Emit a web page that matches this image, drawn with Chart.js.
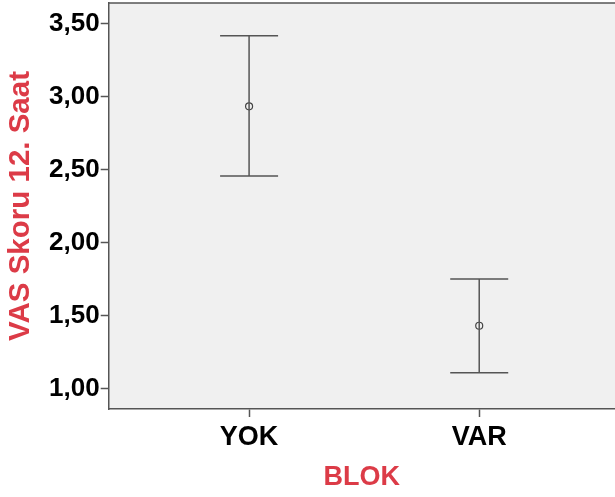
<!DOCTYPE html>
<html>
<head>
<meta charset="utf-8">
<script src="https://cdn.jsdelivr.net/npm/chart.js@4"></script>
<style>
  html, body { margin: 0; padding: 0; background: #fff; overflow: hidden; }
  #wrap { width: 615px; height: 497px; }
</style>
</head>
<body>
<div id="wrap"><canvas id="grafico" width="615" height="497"></canvas></div>
<script>
// datos (media e intervalo)
const grupos = ['YOK', 'VAR'];
const medias = [2.935, 1.433];
const limiteInf = [2.458, 1.111];
const limiteSup = [3.418, 1.753];
const ticksY = [1.0, 1.5, 2.0, 2.5, 3.0, 3.5];

const gris = '#555555';
const rojo = '#dc3b47';
const fuente = "'Liberation Sans', Arial, sans-serif";

// fondo gris y linea superior del area
const fondoArea = {
  id: 'fondoArea',
  beforeDraw(chart) {
    const a = chart.chartArea;
    const ctx = chart.ctx;
    ctx.save();
    ctx.fillStyle = '#f0f0f0';
    ctx.fillRect(a.left, a.top, a.right - a.left, a.bottom - a.top);
    ctx.restore();
  },
  afterDraw(chart) {
    const a = chart.chartArea;
    const ctx = chart.ctx;
    ctx.save();
    ctx.strokeStyle = gris;
    ctx.lineWidth = 1.5;
    ctx.beginPath();
    ctx.moveTo(a.left, a.top);
    ctx.lineTo(a.right, a.top);
    ctx.stroke();
    ctx.restore();
  }
};

const datasets = [];
grupos.forEach((g, i) => {
  datasets.push({
    data: [{ x: i + 1, y: limiteInf[i] }, { x: i + 1, y: limiteSup[i] }],
    showLine: true,
    borderColor: gris,
    borderWidth: 1.5,
    pointRadius: 0
  });
});
datasets.push({
  data: grupos.flatMap((g, i) => [{ x: i + 1, y: limiteInf[i] }, { x: i + 1, y: limiteSup[i] }]),
  pointStyle: 'line',
  pointRadius: 29,
  borderColor: gris,
  borderWidth: 1.5
});
datasets.push({
  data: grupos.map((g, i) => ({ x: i + 1, y: medias[i] })),
  pointStyle: 'circle',
  pointRadius: 3.5,
  backgroundColor: '#f0f0f0',
  borderColor: '#444',
  borderWidth: 1.2
});

new Chart(document.getElementById('grafico'), {
  type: 'scatter',
  data: { datasets },
  plugins: [fondoArea],
  options: {
    responsive: false,
    animation: false,
    layout: { autoPadding: false, padding: { top: 3, right: 0, left: 0, bottom: 0 } },
    plugins: { legend: { display: false }, tooltip: { enabled: false } },
    scales: {
      x: {
        type: 'linear',
        min: 0.39,
        max: 2.59,
        afterBuildTicks: s => { s.ticks = grupos.map((g, i) => ({ value: i + 1 })); },
        afterFit: s => { s.height = 88; s.paddingLeft = 0; s.paddingRight = 0; },
        ticks: {
          callback: v => grupos[v - 1],
          color: '#000',
          font: { family: fuente, size: 27, weight: 'bold' },
          padding: 4,
          maxRotation: 0
        },
        grid: { drawOnChartArea: false, drawTicks: true, tickLength: 8, color: gris, tickWidth: 1.5 },
        border: { display: true, color: gris, width: 1.5 },
        title: {
          display: true,
          text: 'BLOK',
          color: rojo,
          font: { family: fuente, size: 27, weight: 'bold', lineHeight: 1.2 },
          padding: { top: 0, bottom: 3 }
        }
      },
      y: {
        min: 0.863,
        max: 3.642,
        afterBuildTicks: s => { s.ticks = ticksY.map(v => ({ value: v })); },
        afterFit: s => { s.width = 108.7; s.paddingTop = 0; s.paddingBottom = 0; },
        ticks: {
          callback: v => v.toFixed(2).replace('.', ','),
          color: '#000',
          font: { family: fuente, size: 26, weight: 'bold' },
          padding: 1
        },
        grid: { drawOnChartArea: false, drawTicks: true, tickLength: 8, color: gris, tickWidth: 1.5 },
        border: { display: true, color: gris, width: 1.5 },
        title: {
          display: true,
          text: 'VAS Skoru 12. Saat',
          color: rojo,
          font: { family: fuente, size: 29.5, weight: 'bold', lineHeight: 1.2 },
          padding: { top: 3, bottom: 0 }
        }
      }
    }
  }
});
</script>
</body>
</html>
